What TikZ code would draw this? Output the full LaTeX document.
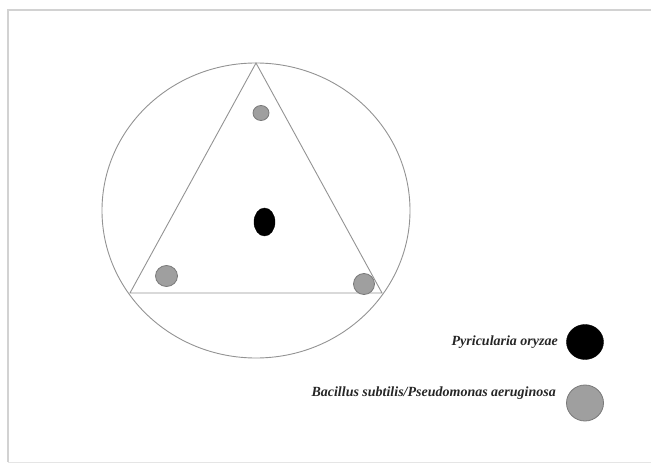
\documentclass[tikz,border=0pt]{standalone}
\usepackage{fontspec}
\setmainfont{Liberation Serif}
\usetikzlibrary{shapes.geometric}
\tikzset{
  edge/.style={draw=gray!85, line width=0.9pt},
  bac/.style={ellipse, draw=gray!95!black, fill=gray!75, line width=0.8pt, inner sep=0pt},
  fungus/.style={ellipse, draw=black, fill=black, inner sep=0pt},
  legendtxt/.style={anchor=east, inner sep=0pt, text=black!85, font=\fontsize{14}{16}\selectfont\bfseries\itshape}
}
\begin{document}
\begin{tikzpicture}[x=1pt,y=-1pt]
\useasboundingbox (0,0) rectangle (651,465);
% frame
\draw[gray!35, line width=1.5pt] (8,462) -- (8,10) -- (651,10);
\draw[gray!20, line width=1pt] (8,462) -- (651,462);
% circle and triangle
\draw[edge] (256,210.5) ellipse [x radius=154, y radius=147.5];
\coordinate (top) at (256,63);
\coordinate (bl) at (130,293);
\coordinate (br) at (382,293);
\draw[edge] (top) -- (br) -- (bl) -- cycle;
% spots
\node[bac, minimum width=16pt, minimum height=15pt] (s1) at (261,113) {};
\node[bac, minimum width=22pt, minimum height=21pt] (s2) at (166.5,276) {};
\node[bac, minimum width=21pt, minimum height=21pt] (s3) at (364,284) {};
\node[fungus, minimum width=21pt, minimum height=28pt] (f) at (264.5,222) {};
% legend
\node[fungus, minimum width=37pt, minimum height=35pt] (kf) at (585,342) {};
\node[bac, minimum width=37pt, minimum height=36pt] (kb) at (585,403) {};
\node[legendtxt] (tf) at (558,342) {Pyricularia oryzae};
\node[legendtxt] (tb) at (556,393) {Bacillus subtilis/Pseudomonas aeruginosa};
\end{tikzpicture}
\end{document}
